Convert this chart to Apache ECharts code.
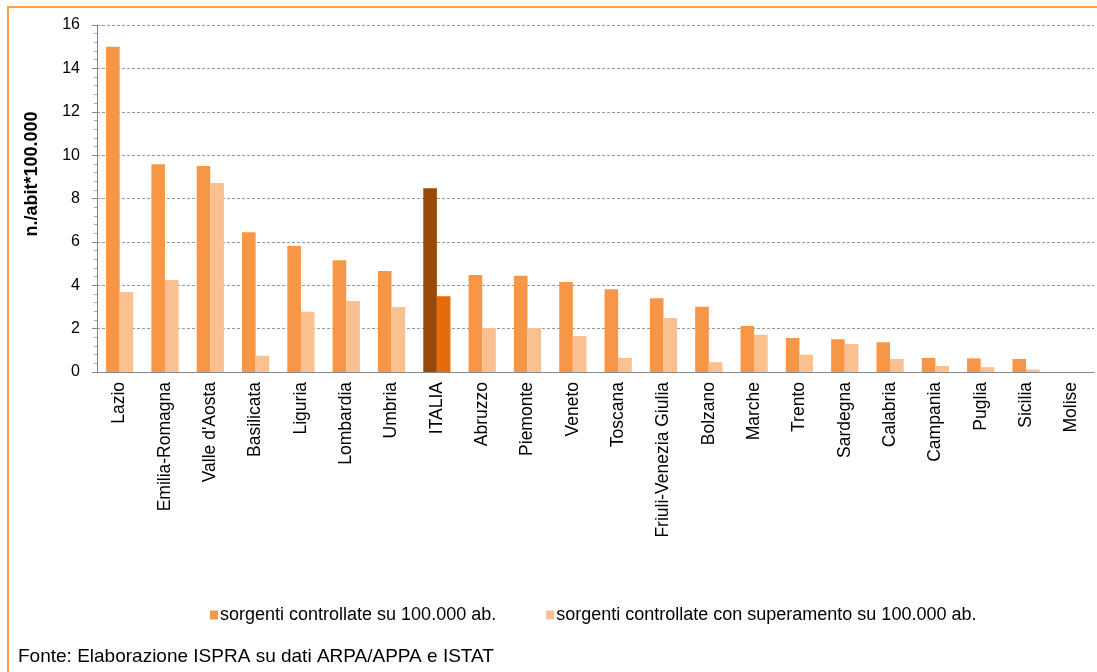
<!DOCTYPE html>
<html>
<head>
<meta charset="utf-8">
<script src="https://cdn.jsdelivr.net/npm/echarts@6/dist/echarts.min.js"></script>
<style>
  html, body { margin: 0; padding: 0; background: #fff; }
  #main { width: 1097px; height: 672px; }
</style>
</head>
<body>
<div id="main"></div>
<script>
var regions = ['Lazio', 'Emilia-Romagna', "Valle d'Aosta", 'Basilicata', 'Liguria', 'Lombardia', 'Umbria',
  'ITALIA', 'Abruzzo', 'Piemonte', 'Veneto', 'Toscana', 'Friuli-Venezia Giulia', 'Bolzano', 'Marche',
  'Trento', 'Sardegna', 'Calabria', 'Campania', 'Puglia', 'Sicilia', 'Molise'];
var controllate = [15.0, 9.58, 9.5, 6.44, 5.81, 5.15, 4.66, 8.47, 4.47, 4.44, 4.15, 3.81, 3.40, 3.01, 2.12,
  1.57, 1.51, 1.37, 0.65, 0.63, 0.60, 0];
var superamento = [3.69, 4.24, 8.71, 0.75, 2.78, 3.27, 3.0, 3.49, 2.03, 2.03, 1.66, 0.65, 2.49, 0.45, 1.72,
  0.80, 1.29, 0.60, 0.28, 0.22, 0.12, 0];
var yTicks = [0, 2, 4, 6, 8, 10, 12, 14, 16];

var legendNames = ['sorgenti controllate su 100.000 ab.', 'sorgenti controllate con superamento su 100.000 ab.'];
var font = 'Liberation Sans, Arial, sans-serif';

function withItaly(values, italy) {
  return values.map(function (v, i) {
    return regions[i] === 'ITALIA' ? { value: v, itemStyle: { color: italy } } : v;
  });
}

var myChart = echarts.init(document.getElementById('main'));

var option = {
  animation: false,
  textStyle: { fontFamily: font },
  grid: { left: 97, right: 3, top: 25, bottom: 300 },
  legend: {
    data: legendNames,
    left: 205,
    top: 601,
    icon: 'rect',
    itemWidth: 8,
    itemHeight: 9,
    itemGap: 50,
    textStyle: { fontSize: 18, color: '#000', fontFamily: font, padding: [0, 0, 0, -3] }
  },
  xAxis: {
    type: 'category',
    data: regions,
    axisLine: { lineStyle: { color: '#868686' } },
    axisTick: { length: 5, lineStyle: { color: '#868686' } },
    axisLabel: { rotate: 90, interval: 0, fontSize: 17.5, color: '#000', margin: 10 }
  },
  yAxis: {
    type: 'value',
    min: 0,
    max: 16,
    interval: 2,
    axisLine: { show: true, lineStyle: { color: '#868686' } },
    axisTick: { show: true, length: 5, lineStyle: { color: '#868686' } },
    minorTick: { show: true, splitNumber: 5, length: 3, lineStyle: { color: '#a6a6a6' } },
    axisLabel: {
      fontSize: 16, color: '#000', margin: 17,
      formatter: function (v) { return yTicks.indexOf(v) >= 0 ? v : ''; }
    },
    splitLine: { lineStyle: { color: '#999999', type: [3, 2], width: 1 } }
  },
  series: [
    {
      name: legendNames[0],
      type: 'bar',
      barWidth: '30%',
      barGap: '0%',
      itemStyle: { color: '#F79646' },
      data: withItaly(controllate, '#984807')
    },
    {
      name: legendNames[1],
      type: 'bar',
      barWidth: '30%',
      barGap: '0%',
      itemStyle: { color: '#FAC090' },
      data: withItaly(superamento, '#E46C0A')
    }
  ],
  graphic: [
    {
      type: 'rect',
      shape: { x: 8, y: 7, width: 1200, height: 800 },
      style: { fill: 'none', stroke: '#F9A24C', lineWidth: 2 },
      silent: true
    },
    {
      type: 'text',
      x: 32,
      y: 174,
      rotation: Math.PI / 2,
      style: {
        text: 'n./abit*100.000',
        font: 'bold 18px Liberation Sans, Arial, sans-serif',
        fill: '#000',
        align: 'center',
        verticalAlign: 'middle'
      }
    },
    {
      type: 'text',
      x: 18,
      y: 657,
      style: {
        text: 'Fonte: Elaborazione ISPRA su dati ARPA/APPA e ISTAT',
        font: '19px Liberation Sans, Arial, sans-serif',
        fill: '#000',
        align: 'left',
        verticalAlign: 'middle'
      }
    }
  ]
};

myChart.setOption(option);
</script>
</body>
</html>
